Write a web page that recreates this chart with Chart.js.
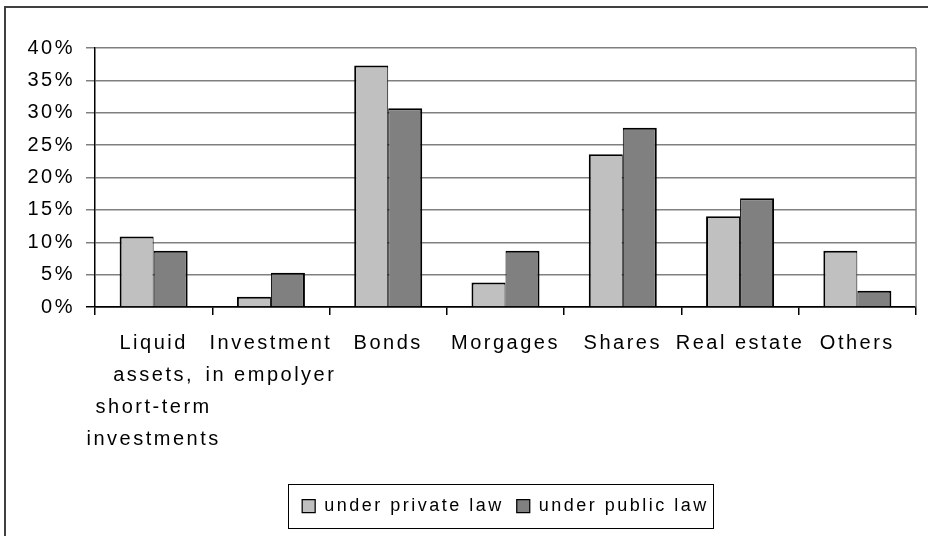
<!DOCTYPE html>
<html>
<head>
<meta charset="utf-8">
<script src="https://cdn.jsdelivr.net/npm/chart.js@4.4.1/dist/chart.umd.min.js"></script>
<style>
  body { margin: 0; background: #fff; }
</style>
</head>
<body>
<canvas id="assetChart" width="928" height="536"></canvas>
<script>
// Asset allocation of pension funds, share of total assets (%)
const categories = [
    ["Liquid", "assets,", "short-term", "investments"],
    ["Investment", "in empolyer"],
    "Bonds",
    "Morgages",
    "Shares",
    "Real estate",
    "Others"
];
const privateLaw = [10.9, 1.6, 37.3, 3.8, 23.6, 14.0, 8.7];
const publicLaw = [8.7, 5.3, 30.7, 8.7, 27.7, 16.8, 2.5];
const seriesNames = ["under private law", "under public law"];
const yMax = 40;
const yStep = 5;

const SPACING = "2.5px";

// white background, outer frame, plot edge and legend frame
const chartFrame = {
    id: "chartFrame",
    beforeLayout(chart) {
        chart.ctx.letterSpacing = SPACING;
    },
    beforeDraw(chart) {
        const ctx = chart.ctx;
        ctx.letterSpacing = SPACING;
        ctx.save();
        ctx.fillStyle = "#fff";
        ctx.fillRect(0, 0, chart.width, chart.height);
        ctx.strokeStyle = "#404040";
        ctx.lineWidth = 2;
        ctx.beginPath();
        ctx.moveTo(5, chart.height);
        ctx.lineTo(5, 7);
        ctx.lineTo(chart.width, 7);
        ctx.stroke();
        ctx.restore();
    },
    afterDraw(chart) {
        const { ctx, chartArea, legend } = chart;
        ctx.save();
        ctx.strokeStyle = "#808080";
        ctx.lineWidth = 1.5;
        ctx.beginPath();
        ctx.moveTo(chartArea.right, chartArea.top);
        ctx.lineTo(chartArea.right, chartArea.bottom);
        ctx.stroke();

        const hits = legend.legendHitBoxes;
        if (hits && hits.length) {
            const first = hits[0];
            const last = hits[hits.length - 1];
            const x1 = first.left - 14;
            const x2 = last.left + last.width + 4;
            const y1 = first.top - 13;
            const y2 = first.top + first.height + 13;
            ctx.strokeStyle = "#000";
            ctx.lineWidth = 1;
            ctx.strokeRect(Math.round(x1) + 0.5, Math.round(y1) + 0.5, Math.round(x2 - x1), Math.round(y2 - y1));
        }
        ctx.restore();
    }
};

Chart.defaults.font.family = "'Liberation Sans', Arial, sans-serif";
Chart.defaults.color = "#000";

const ctx = document.getElementById("assetChart").getContext("2d");
new Chart(ctx, {
    type: "bar",
    data: {
        labels: categories,
        datasets: [
            {
                label: seriesNames[0],
                data: privateLaw,
                backgroundColor: "#C0C0C0",
                borderColor: "#000",
                borderWidth: { top: 2, left: 2, right: 1, bottom: 0 },
                borderSkipped: false,
                categoryPercentage: 0.58,
                barPercentage: 1.0
            },
            {
                label: seriesNames[1],
                data: publicLaw,
                backgroundColor: "#808080",
                borderColor: "#000",
                borderWidth: { top: 2, left: 1, right: 2, bottom: 0 },
                borderSkipped: false,
                categoryPercentage: 0.58,
                barPercentage: 1.0
            }
        ]
    },
    options: {
        responsive: false,
        animation: false,
        devicePixelRatio: 1,
        layout: {
            padding: { left: 0, right: 12, top: 48, bottom: 11 }
        },
        scales: {
            x: {
                grid: {
                    display: true,
                    drawOnChartArea: false,
                    drawTicks: true,
                    tickLength: 8,
                    color: "#000",
                    lineWidth: 1.5,
                    offset: true
                },
                border: { color: "#000", width: 1.5 },
                ticks: {
                    autoSkip: false,
                    maxRotation: 0,
                    minRotation: 0,
                    padding: 12,
                    font: { size: 20, lineHeight: 1.6 }
                },
                afterFit(scale) {
                    scale.height = 177;
                }
            },
            y: {
                min: 0,
                max: yMax,
                grid: {
                    color: (c) => (c.tick && c.tick.value === 0 ? "#000" : "#808080"),
                    lineWidth: 1.5,
                    tickLength: 9,
                    drawTicks: true
                },
                border: { color: "#000", width: 1.5 },
                ticks: {
                    stepSize: yStep,
                    padding: 11,
                    font: { size: 20 },
                    callback: (v) => v + "%"
                },
                afterFit(scale) {
                    scale.width = 95;
                }
            }
        },
        plugins: {
            legend: {
                position: "bottom",
                fullSize: false,
                labels: {
                    boxWidth: 13,
                    boxHeight: 13,
                    padding: 13,
                    color: "#000",
                    font: { size: 18 }
                }
            },
            tooltip: { enabled: false }
        }
    },
    plugins: [chartFrame]
});
</script>
</body>
</html>
